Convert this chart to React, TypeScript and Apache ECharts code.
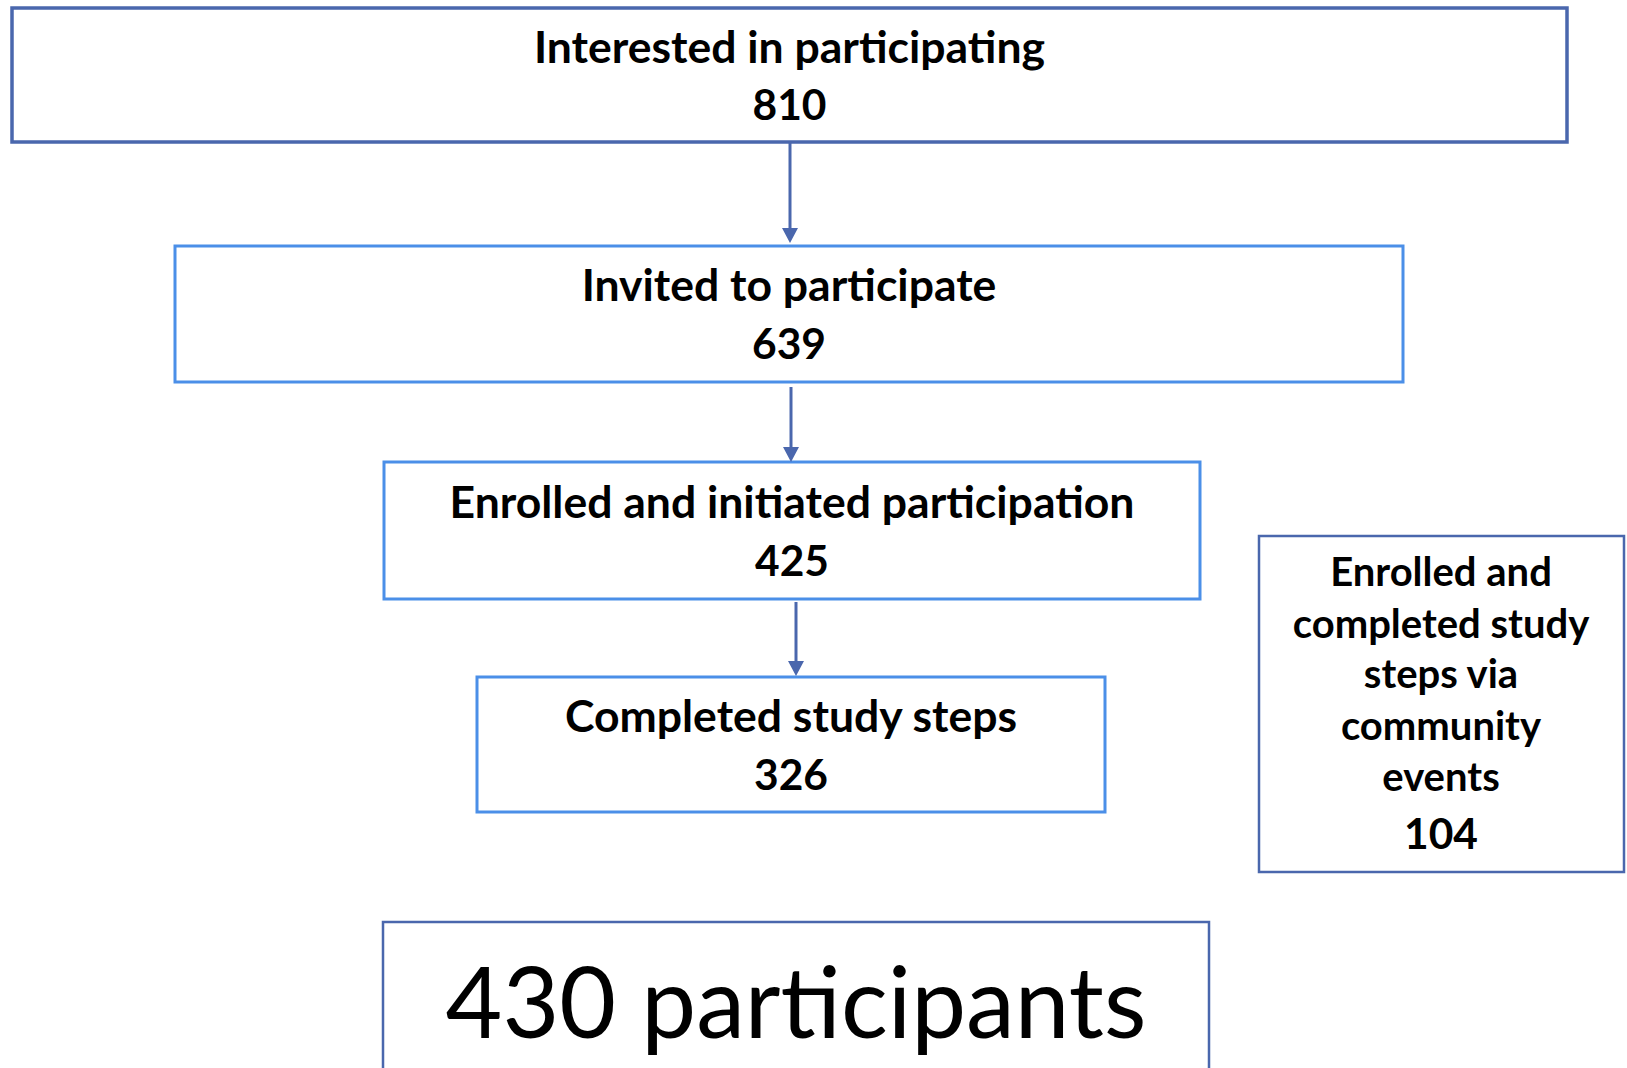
import React, { useEffect, useRef } from "react";
import * as echarts from "echarts";

const stepLabels = [
  "Interested in participating",
  "Invited to participate",
  "Enrolled and initiated participation",
  "Completed study steps",
];
const stepValues = [810, 639, 425, 326];
const sideLabel = ["Enrolled and", "completed study", "steps via", "community", "events"];
const sideValue = 104;
const totalLabel = "430 participants";

const DARK = "#4a67ad";
const LIGHT = "#4b8fe8";
const FONT = "Lato, 'Open Sans', sans-serif";

// layout boxes: [x, y, w, h, color, lineWidth]
const boxes: [number, number, number, number, string, number][] = [
  [12, 8, 1555, 134, DARK, 3.5],
  [175, 246, 1228, 136, LIGHT, 3],
  [384, 462, 816, 137, LIGHT, 3],
  [477, 677, 628, 135, LIGHT, 3],
];
const arrows: [number, number, number][] = [
  [790, 142, 243],
  [791, 387, 462],
  [796, 602, 676],
];

export default function App() {
  const ref = useRef<HTMLDivElement>(null);
  useEffect(() => {
    if (!ref.current) return;
    const chart = echarts.init(ref.current, undefined, { renderer: "svg" });
    const elements: any[] = [];
    stepLabels.forEach((lab, i) => {
      const [x, y, w, h, c, lw] = boxes[i];
      elements.push({
        type: "rect",
        shape: { x, y, width: w, height: h },
        style: { fill: "#fff", stroke: c, lineWidth: lw },
      });
      elements.push({
        type: "text",
        x: x + w / 2,
        y: y + h * 0.3 - 3,
        style: {
          text: lab,
          fill: "#000",
          font: `bold 44.5px ${FONT}`,
          textAlign: "center",
          textVerticalAlign: "middle",
        },
      });
      elements.push({
        type: "text",
        x: x + w / 2,
        y: y + h * 0.72 - 1,
        style: {
          text: String(stepValues[i]),
          fill: "#000",
          font: `bold 42.5px ${FONT}`,
          textAlign: "center",
          textVerticalAlign: "middle",
        },
      });
    });
    arrows.forEach(([x, y1, y2]) => {
      elements.push({
        type: "line",
        shape: { x1: x, y1, x2: x, y2: y2 - 12 },
        style: { stroke: DARK, lineWidth: 3 },
      });
      elements.push({
        type: "polygon",
        shape: { points: [[x - 8, y2 - 15], [x + 8, y2 - 15], [x, y2]] },
        style: { fill: DARK },
      });
    });
    // side box
    elements.push({
      type: "rect",
      shape: { x: 1259, y: 536, width: 365, height: 336 },
      style: { fill: "#fff", stroke: DARK, lineWidth: 2.5 },
    });
    const sideYs = [571, 623, 673, 725, 776];
    sideLabel.forEach((t, i) => {
      elements.push({
        type: "text",
        x: 1441,
        y: sideYs[i],
        style: {
          text: t,
          fill: "#000",
          font: `bold 40px ${FONT}`,
          textAlign: "center",
          textVerticalAlign: "middle",
        },
      });
    });
    elements.push({
      type: "text",
      x: 1441,
      y: 832,
      style: {
        text: String(sideValue),
        fill: "#000",
        font: `bold 42.5px ${FONT}`,
        textAlign: "center",
        textVerticalAlign: "middle",
      },
    });
    // total box
    elements.push({
      type: "rect",
      shape: { x: 383, y: 922, width: 826, height: 160 },
      style: { fill: "#fff", stroke: DARK, lineWidth: 2.5 },
    });
    elements.push({
      type: "text",
      x: 796,
      y: 1000,
      style: {
        text: totalLabel,
        fill: "#000",
        font: `normal 98px ${FONT}`,
        textAlign: "center",
        textVerticalAlign: "middle",
      },
    });
    chart.setOption({ animation: false, graphic: { elements } });
    return () => chart.dispose();
  }, []);
  return (
    <div
      ref={ref}
      style={{ position: "fixed", left: 0, top: 0, width: 1627, height: 1068, background: "#fff" }}
    />
  );
}
